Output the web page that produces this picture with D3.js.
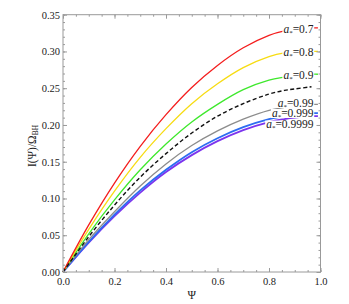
<!DOCTYPE html>
<html>
<head>
<meta charset="utf-8">
<script src="https://cdn.jsdelivr.net/npm/d3@7"></script>
<style>
body{margin:0;background:#fff;}
text{font-family:"Liberation Serif","DejaVu Serif",serif;}
</style>
</head>
<body>
<script>
// psi grid for the coloured curves, and for the dashed one
var psi = [0, 0.1, 0.2, 0.3, 0.4, 0.5, 0.6, 0.7, 0.8, 0.86, 0.9, 0.97, 0.99];
var psiDash = [0, 0.1, 0.2, 0.3, 0.4, 0.5, 0.6, 0.7, 0.8, 0.86, 0.9, 0.965];
var spins = ["0.7", "0.8", "0.9", "0.99", "0.999", "0.9999"];
var i07    = [0, .064, .121, .171, .214, .251, .281, .305, .322, .328, .330, .332, .332];
var i08    = [0, .058, .110, .156, .195, .229, .256, .278, .293, .298, .299, .300, .300];
var i09    = [0, .052, .098, .139, .174, .204, .228, .248, .261, .265, .267, .269, .269];
var i099   = [0, .044, .082, .117, .147, .172, .192, .208, .220, .224, .226, .228, .228];
var i0999  = [0, .041, .078, .111, .139, .163, .182, .197, .208, .212, .214, .216, .216];
var i09999 = [0, .040, .076, .108, .136, .159, .178, .193, .204, .208, .210, .212, .212];
var iDash  = [0, .048, .091, .129, .161, .189, .212, .229, .242, .247, .249, .252];
var xTicks = [0, 0.2, 0.4, 0.6, 0.8, 1.0];
var yTicks = [0, 0.05, 0.1, 0.15, 0.2, 0.25, 0.3, 0.35];

var colours = ["#f41d1d", "#f7dc12", "#3ee82c", "#8c8c8c", "#2c6cf2", "#7c34ee"];
var series = [i07, i08, i09, i099, i0999, i09999];
var labelY = [32.5, 55.5, 78.5, 106.5, 116.5, 128];

var W = 349, H = 304;
var svg = d3.select("body").append("svg").attr("width", W).attr("height", H);

var x = d3.scaleLinear().domain([0, 1]).range([63, 320.5]);
var y = d3.scaleLinear().domain([0, 0.35]).range([272, 14.7]);

var line = d3.line().x(function(d){return x(d[0]);}).y(function(d){return y(d[1]);})
	.curve(d3.curveCatmullRom);

// curves, drawn bottom-up so red is on top
for (var k = series.length - 1; k >= 0; k--) {
	svg.append("path")
		.attr("d", line(d3.zip(psi, series[k])))
		.attr("fill", "none").attr("stroke", colours[k])
		.attr("stroke-width", k >= 4 ? 1.8 : 1.3);
}
svg.append("path")
	.attr("d", line(d3.zip(psiDash, iDash)))
	.attr("fill", "none").attr("stroke", "#111")
	.attr("stroke-width", 1.4).attr("stroke-dasharray", "4,2.5");

// labels with white background (they hide the ends of the curves)
spins.forEach(function(s, k){
	var g = svg.append("g");
	var t = g.append("text").attr("x", 313.5).attr("y", labelY[k])
		.attr("text-anchor", "end").attr("font-size", 11.5).attr("fill", "#222");
	t.append("tspan").attr("font-style", "italic").text("a");
	t.append("tspan").attr("font-size", 7).attr("dy", 2).text("*");
	t.append("tspan").attr("dy", -2).text("=" + s);
	var b = t.node().getBBox();
	g.insert("rect", "text").attr("x", b.x - 1).attr("y", b.y + 2.5)
		.attr("width", b.width + 1.5).attr("height", b.height - 5).attr("fill", "#fff");
});

// frame
var frame = "#9a9a9a";
svg.append("rect").attr("x", x(0)).attr("y", y(0.35))
	.attr("width", x(1) - x(0)).attr("height", y(0) - y(0.35))
	.attr("fill", "none").attr("stroke", frame).attr("stroke-width", 1);

var xb = d3.axisBottom(x).tickValues(xTicks).tickFormat(d3.format(".1f")).tickSize(-4).tickPadding(6);
var xt = d3.axisTop(x).tickValues(xTicks).tickFormat("").tickSize(-4);
var yl = d3.axisLeft(y).tickValues(yTicks).tickFormat(d3.format(".2f")).tickSize(-4).tickPadding(3);
var yr = d3.axisRight(y).tickValues(yTicks).tickFormat("").tickSize(-4);
var xm = d3.range(0, 1.001, 0.05), ym = d3.range(0, 0.3501, 0.01);
var minor = [
	[d3.axisBottom(x).tickValues(xm), "translate(0," + y(0) + ")"],
	[d3.axisTop(x).tickValues(xm), "translate(0," + y(0.35) + ")"],
	[d3.axisLeft(y).tickValues(ym), "translate(" + x(0) + ",0)"],
	[d3.axisRight(y).tickValues(ym), "translate(" + x(1) + ",0)"]
];
minor.forEach(function(m){
	svg.append("g").attr("transform", m[1])
		.call(m[0].tickFormat("").tickSize(-2))
		.call(function(g){g.select(".domain").remove(); g.selectAll("line").attr("stroke", frame);});
});
[[xb, "translate(0," + y(0) + ")"], [xt, "translate(0," + y(0.35) + ")"],
 [yl, "translate(" + x(0) + ",0)"], [yr, "translate(" + x(1) + ",0)"]].forEach(function(a){
	svg.append("g").attr("transform", a[1]).call(a[0])
		.call(function(g){
			g.select(".domain").remove();
			g.selectAll("line").attr("stroke", frame);
			g.selectAll("text").attr("font-size", 10.5).attr("fill", "#222")
				.style("font-family", "Liberation Serif");
		});
});

// axis titles
svg.append("text").attr("x", x(0.5)).attr("y", 299).attr("text-anchor", "middle")
	.attr("font-size", 11.5).attr("fill", "#222").text("Ψ");
var yt = svg.append("text").attr("transform", "translate(36,146) rotate(-90)")
	.attr("text-anchor", "middle").attr("font-size", 11.5).attr("fill", "#222");
yt.append("tspan").text("I(Ψ)/Ω");
yt.append("tspan").attr("font-size", 7.5).attr("dy", 2).text("BH");
</script>
</body>
</html>
